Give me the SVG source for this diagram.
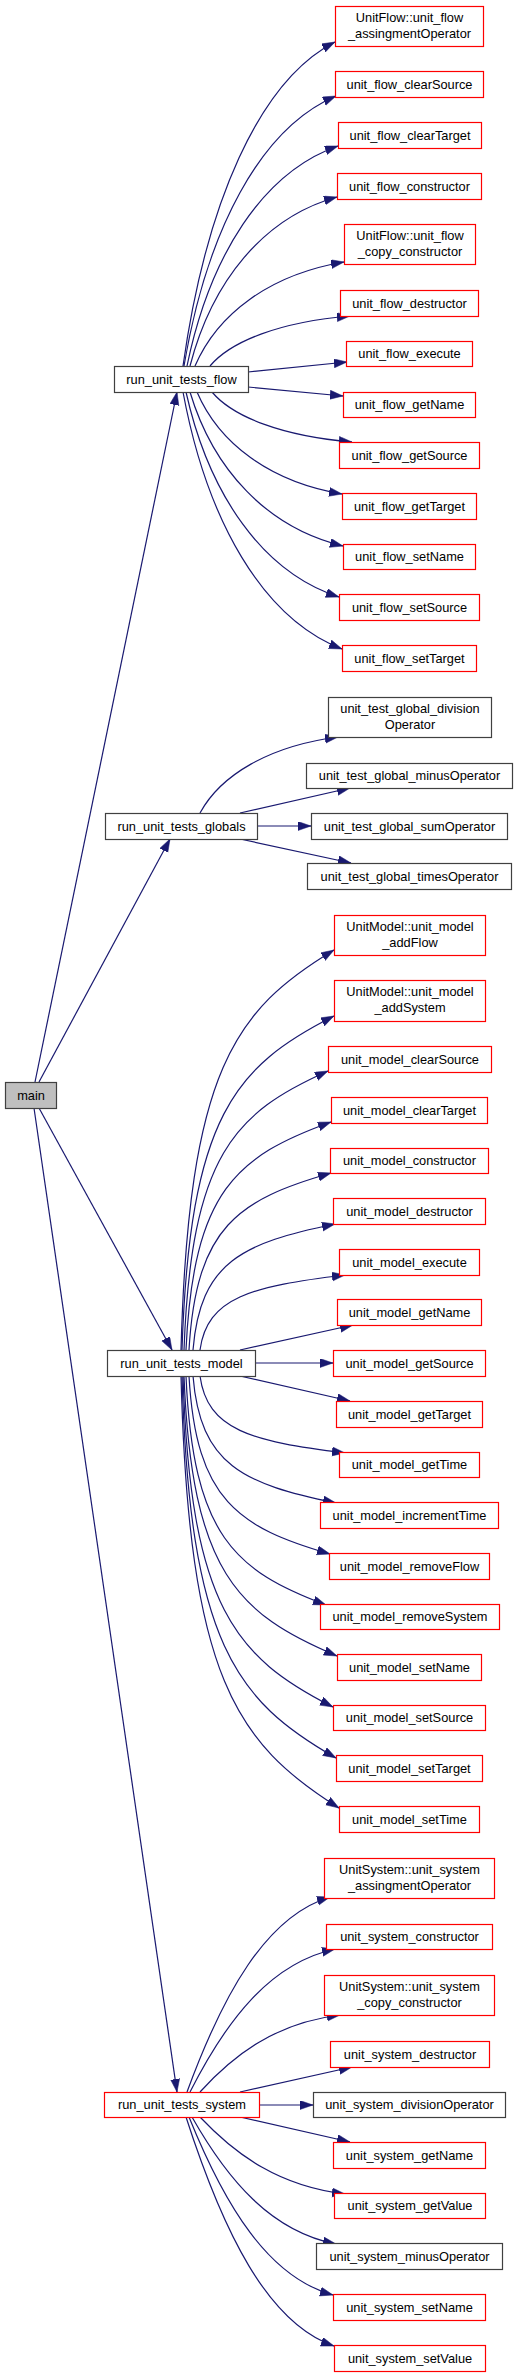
<svg xmlns="http://www.w3.org/2000/svg" width="517" height="2377" viewBox="0 0 517 2377">
<style>
.r{fill:#fff;stroke:#ff0000;stroke-width:1.2}
.b{fill:#fff;stroke:#404040;stroke-width:1.2}
.m{fill:#bfbfbf;stroke:#404040;stroke-width:1.2}
text{font-family:"Liberation Sans",Arial,sans-serif;font-size:12.8px;text-anchor:middle;fill:#000}
#edges path{fill:none;stroke:#191970;stroke-width:1.2;marker-end:url(#ah)}
</style>
<defs>
<marker id="ah" markerUnits="userSpaceOnUse" markerWidth="14" markerHeight="10" refX="13" refY="4.5" orient="auto">
<path d="M0,0 L13,4.5 L0,9 z" fill="#191970" stroke="#191970" stroke-width="0.5"/>
</marker>
</defs>
<rect width="517" height="2377" fill="#fff"/>
<g id="edges">
<path d="M35,1082 L177,392"/>
<path d="M39,1082 L170,839"/>
<path d="M39,1108 L172,1350"/>
<path d="M34,1108 L177,2092"/>
<path d="M183,366 C205.8,204 259,80.9 335,42"/>
<path d="M184,366 C206.8,231 260,128.4 336,96"/>
<path d="M187,366 C209.7,256 262.5,172.4 338,146"/>
<path d="M190,366 C212,281.5 263.5,217.3 337,197"/>
<path d="M195,366 C217.4,314 269.5,274.5 344,262"/>
<path d="M210,366 C231,341 280,322 350,316"/>
<path d="M248,372 L347,362"/>
<path d="M248,387 L343,396"/>
<path d="M212,392 C233,417 282,436 352,442"/>
<path d="M197,392 C218.8,443 269.5,481.8 342,494"/>
<path d="M190,392 C213,469 266.5,527.5 343,546"/>
<path d="M186,392 C209,494.5 262.5,572.4 339,597"/>
<path d="M183,392 C206.9,520.5 262.5,618.2 342,649"/>
<path d="M200,813 C220.7,775 269,746 338,737"/>
<path d="M240,813 L350,788"/>
<path d="M257,826 L311,826"/>
<path d="M240,839 L351,863"/>
<path d="M181,1350 C188.7,1070 234.6,1010 334,950"/>
<path d="M182,1350 C189.6,1116.2 235.2,1066.1 334,1016"/>
<path d="M184,1350 C191.2,1154.7 234.4,1112.9 328,1071"/>
<path d="M186,1350 C193.3,1190.4 236.8,1156.2 331,1122"/>
<path d="M189,1350 C196.1,1226.1 238.7,1199.6 331,1173"/>
<path d="M193,1350 C200.1,1261.8 242.7,1242.9 335,1224"/>
<path d="M200,1350 C207.3,1297.5 250.8,1286.3 345,1275"/>
<path d="M240,1350 L353,1325"/>
<path d="M255,1363 L333,1363"/>
<path d="M240,1376 L350,1401"/>
<path d="M200,1376 C207.3,1429.9 250.8,1441.5 345,1453"/>
<path d="M193,1376 C200.2,1464.9 243.1,1484 336,1503"/>
<path d="M189,1376 C196,1500.6 238.4,1527.3 330,1554"/>
<path d="M186,1376 C193,1536.3 235,1570.7 326,1605"/>
<path d="M184,1376 C191.7,1572 237.6,1614 337,1656"/>
<path d="M183,1376 C190.5,1607.7 235.5,1657.4 333,1707"/>
<path d="M182,1376 C189.7,1643.4 235.9,1700.7 336,1758"/>
<path d="M181,1376 C188.9,1678.4 236.3,1743.2 339,1808"/>
<path d="M187,2092 C222.8,1994.5 265.7,1916.5 330,1897"/>
<path d="M190,2092 C226.3,2020.5 269.8,1963.3 335,1949"/>
<path d="M200,2092 C235,2053.5 277,2022.7 340,2015"/>
<path d="M240,2092 L352,2067"/>
<path d="M259,2105 L313,2105"/>
<path d="M240,2117 L350,2142"/>
<path d="M200,2117 C236.3,2155.5 279.8,2186.3 345,2194"/>
<path d="M192,2117 C228,2180.5 271.2,2231.3 336,2244"/>
<path d="M189,2117 C225,2206 268.2,2277.2 333,2295"/>
<path d="M186,2117 C223,2231.5 267.4,2323.1 334,2346"/>
</g>
<g id="main"><rect class="m" x="5.5" y="1082.5" width="51" height="26"/><text x="31" y="1099.5">main</text></g>
<g id="run_unit_tests_flow"><rect class="b" x="114.5" y="366.5" width="134" height="26"/><text x="181.5" y="383.5">run_unit_tests_flow</text></g>
<g id="f1"><rect class="r" x="335.5" y="6.5" width="148" height="40"/><text x="409.5" y="22">UnitFlow::unit_flow</text><text x="409.5" y="37.5">_assingmentOperator</text></g>
<g id="f2"><rect class="r" x="335.5" y="71.5" width="148" height="26"/><text x="409.5" y="88.5">unit_flow_clearSource</text></g>
<g id="f3"><rect class="r" x="338.5" y="122.5" width="143" height="26"/><text x="410" y="139.5">unit_flow_clearTarget</text></g>
<g id="f4"><rect class="r" x="337.5" y="173.5" width="144" height="26"/><text x="409.5" y="190.5">unit_flow_constructor</text></g>
<g id="f5"><rect class="r" x="344.5" y="224.5" width="131" height="40"/><text x="410" y="240">UnitFlow::unit_flow</text><text x="410" y="255.5">_copy_constructor</text></g>
<g id="f6"><rect class="r" x="340.5" y="290.5" width="138" height="26"/><text x="409.5" y="307.5">unit_flow_destructor</text></g>
<g id="f7"><rect class="r" x="346.5" y="341.5" width="126" height="25"/><text x="409.5" y="358">unit_flow_execute</text></g>
<g id="f8"><rect class="r" x="343.5" y="392.5" width="132" height="25"/><text x="409.5" y="409">unit_flow_getName</text></g>
<g id="f9"><rect class="r" x="339.5" y="442.5" width="140" height="26"/><text x="409.5" y="459.5">unit_flow_getSource</text></g>
<g id="f10"><rect class="r" x="342.5" y="493.5" width="134" height="26"/><text x="409.5" y="510.5">unit_flow_getTarget</text></g>
<g id="f11"><rect class="r" x="343.5" y="544.5" width="132" height="25"/><text x="409.5" y="561">unit_flow_setName</text></g>
<g id="f12"><rect class="r" x="339.5" y="594.5" width="140" height="26"/><text x="409.5" y="611.5">unit_flow_setSource</text></g>
<g id="f13"><rect class="r" x="342.5" y="645.5" width="134" height="26"/><text x="409.5" y="662.5">unit_flow_setTarget</text></g>
<g id="run_unit_tests_globals"><rect class="b" x="105.5" y="813.5" width="152" height="26"/><text x="181.5" y="830.5">run_unit_tests_globals</text></g>
<g id="g1"><rect class="b" x="328.5" y="697.5" width="163" height="40"/><text x="410" y="713">unit_test_global_division</text><text x="410" y="728.5">Operator</text></g>
<g id="g2"><rect class="b" x="306.5" y="763.5" width="206" height="25"/><text x="409.5" y="780">unit_test_global_minusOperator</text></g>
<g id="g3"><rect class="b" x="311.5" y="813.5" width="196" height="26"/><text x="409.5" y="830.5">unit_test_global_sumOperator</text></g>
<g id="g4"><rect class="b" x="307.5" y="863.5" width="204" height="26"/><text x="409.5" y="880.5">unit_test_global_timesOperator</text></g>
<g id="run_unit_tests_model"><rect class="b" x="107.5" y="1350.5" width="148" height="26"/><text x="181.5" y="1367.5">run_unit_tests_model</text></g>
<g id="m1"><rect class="r" x="334.5" y="915.5" width="151" height="40"/><text x="410" y="931">UnitModel::unit_model</text><text x="410" y="946.5">_addFlow</text></g>
<g id="m2"><rect class="r" x="334.5" y="980.5" width="151" height="41"/><text x="410" y="996">UnitModel::unit_model</text><text x="410" y="1011.5">_addSystem</text></g>
<g id="m3"><rect class="r" x="328.5" y="1046.5" width="163" height="26"/><text x="410" y="1063.5">unit_model_clearSource</text></g>
<g id="m4"><rect class="r" x="331.5" y="1097.5" width="156" height="26"/><text x="409.5" y="1114.5">unit_model_clearTarget</text></g>
<g id="m5"><rect class="r" x="330.5" y="1148.5" width="158" height="25"/><text x="409.5" y="1165">unit_model_constructor</text></g>
<g id="m6"><rect class="r" x="333.5" y="1198.5" width="152" height="26"/><text x="409.5" y="1215.5">unit_model_destructor</text></g>
<g id="m7"><rect class="r" x="339.5" y="1249.5" width="140" height="26"/><text x="409.5" y="1266.5">unit_model_execute</text></g>
<g id="m8"><rect class="r" x="337.5" y="1299.5" width="144" height="26"/><text x="409.5" y="1316.5">unit_model_getName</text></g>
<g id="m9"><rect class="r" x="333.5" y="1350.5" width="152" height="26"/><text x="409.5" y="1367.5">unit_model_getSource</text></g>
<g id="m10"><rect class="r" x="336.5" y="1401.5" width="146" height="26"/><text x="409.5" y="1418.5">unit_model_getTarget</text></g>
<g id="m11"><rect class="r" x="339.5" y="1452.5" width="140" height="25"/><text x="409.5" y="1469">unit_model_getTime</text></g>
<g id="m12"><rect class="r" x="320.5" y="1502.5" width="178" height="26"/><text x="409.5" y="1519.5">unit_model_incrementTime</text></g>
<g id="m13"><rect class="r" x="329.5" y="1553.5" width="160" height="26"/><text x="409.5" y="1570.5">unit_model_removeFlow</text></g>
<g id="m14"><rect class="r" x="320.5" y="1604.5" width="179" height="25"/><text x="410" y="1621">unit_model_removeSystem</text></g>
<g id="m15"><rect class="r" x="337.5" y="1654.5" width="144" height="26"/><text x="409.5" y="1671.5">unit_model_setName</text></g>
<g id="m16"><rect class="r" x="333.5" y="1705.5" width="152" height="25"/><text x="409.5" y="1722">unit_model_setSource</text></g>
<g id="m17"><rect class="r" x="336.5" y="1755.5" width="146" height="26"/><text x="409.5" y="1772.5">unit_model_setTarget</text></g>
<g id="m18"><rect class="r" x="339.5" y="1806.5" width="140" height="26"/><text x="409.5" y="1823.5">unit_model_setTime</text></g>
<g id="run_unit_tests_system"><rect class="r" x="104.5" y="2092.5" width="155" height="25"/><text x="182" y="2109">run_unit_tests_system</text></g>
<g id="s1"><rect class="r" x="324.5" y="1858.5" width="170" height="40"/><text x="409.5" y="1874">UnitSystem::unit_system</text><text x="409.5" y="1889.5">_assingmentOperator</text></g>
<g id="s2"><rect class="r" x="326.5" y="1924.5" width="166" height="25"/><text x="409.5" y="1941">unit_system_constructor</text></g>
<g id="s3"><rect class="r" x="324.5" y="1975.5" width="170" height="40"/><text x="409.5" y="1991">UnitSystem::unit_system</text><text x="409.5" y="2006.5">_copy_constructor</text></g>
<g id="s4"><rect class="r" x="330.5" y="2041.5" width="159" height="26"/><text x="410" y="2058.5">unit_system_destructor</text></g>
<g id="s5"><rect class="b" x="313.5" y="2092.5" width="192" height="25"/><text x="409.5" y="2109">unit_system_divisionOperator</text></g>
<g id="s6"><rect class="r" x="333.5" y="2142.5" width="152" height="26"/><text x="409.5" y="2159.5">unit_system_getName</text></g>
<g id="s7"><rect class="r" x="334.5" y="2193.5" width="151" height="25"/><text x="410" y="2210">unit_system_getValue</text></g>
<g id="s8"><rect class="b" x="316.5" y="2243.5" width="186" height="26"/><text x="409.5" y="2260.5">unit_system_minusOperator</text></g>
<g id="s9"><rect class="r" x="333.5" y="2294.5" width="152" height="26"/><text x="409.5" y="2311.5">unit_system_setName</text></g>
<g id="s10"><rect class="r" x="334.5" y="2345.5" width="151" height="26"/><text x="410" y="2362.5">unit_system_setValue</text></g>
</svg>
